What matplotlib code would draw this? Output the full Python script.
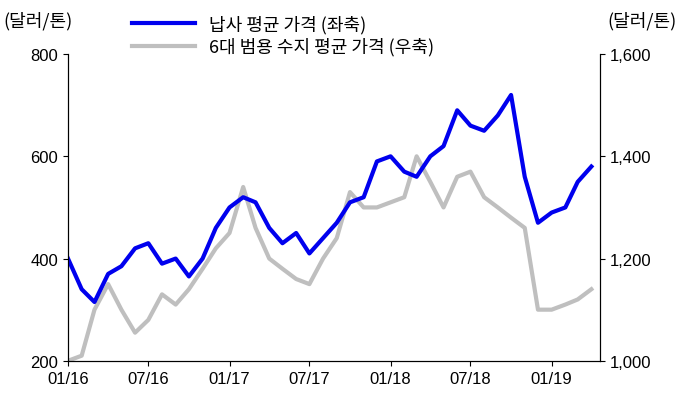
import matplotlib
matplotlib.use("Agg")
import matplotlib.pyplot as plt
import matplotlib.dates as mdates
import pandas as pd

plt.rcParams['font.family'] = ['Noto Sans CJK KR', 'DejaVu Sans']

dates = pd.date_range("2016-01-01", periods=40, freq="MS")
lead = [400, 340, 315, 370, 385, 420, 430, 390, 400, 365, 400, 460,
        500, 520, 510, 460, 430, 450, 410, 440, 470, 510, 520, 590,
        600, 570, 560, 600, 620, 690, 660, 650, 680, 720, 560, 470,
        490, 500, 550, 580]
resin = [1000, 1010, 1100, 1150, 1100, 1055, 1080, 1130, 1110, 1140, 1180, 1220,
         1250, 1340, 1260, 1200, 1180, 1160, 1150, 1200, 1240, 1330, 1300, 1300,
         1310, 1320, 1400, 1350, 1300, 1360, 1370, 1320, 1300, 1280, 1260, 1100,
         1100, 1110, 1120, 1140]
xticks = pd.to_datetime(["2016-01-01", "2016-07-01", "2017-01-01", "2017-07-01",
                         "2018-01-01", "2018-07-01", "2019-01-01"])

fig = plt.figure(figsize=(6.8, 4.02), dpi=100)
ax = fig.add_axes([0.1, 0.1, 0.782, 0.763])
ax2 = ax.twinx()
l1, = ax.plot(dates, lead, color="#0000ee", lw=3, label="납사 평균 가격 (좌축)")
l2, = ax2.plot(dates, resin, color="#bfbfbf", lw=3, label="6대 범용 수지 평균 가격 (우축)")
ax.set_zorder(2); ax.patch.set_visible(False)
ax.set_ylim(200, 800); ax.set_yticks([200, 400, 600, 800])
ax2.set_ylim(1000, 1600); ax2.set_yticks([1000, 1200, 1400, 1600])
ax2.set_yticklabels(["1,000", "1,200", "1,400", "1,600"])
ax.set_xlim(pd.Timestamp("2016-01-01"), pd.Timestamp("2019-04-20"))
ax.set_xticks(xticks)
ax.xaxis.set_major_formatter(mdates.DateFormatter("%m/%y"))
for a in (ax, ax2):
    a.tick_params(labelsize=12, direction="out")
    for lab in a.get_xticklabels() + a.get_yticklabels():
        lab.set_family("Liberation Sans")
    a.spines["top"].set_visible(False)
fig.text(0.005, 0.97, "(달러/톤)", fontsize=13, va="top")
fig.text(0.995, 0.97, "(달러/톤)", fontsize=13, va="top", ha="right")
fig.legend(handles=[l1, l2], loc="upper left", bbox_to_anchor=(0.17, 1.0),
           frameon=False, fontsize=13, handlelength=3.5, labelspacing=0.2)
fig.savefig("out.png")
